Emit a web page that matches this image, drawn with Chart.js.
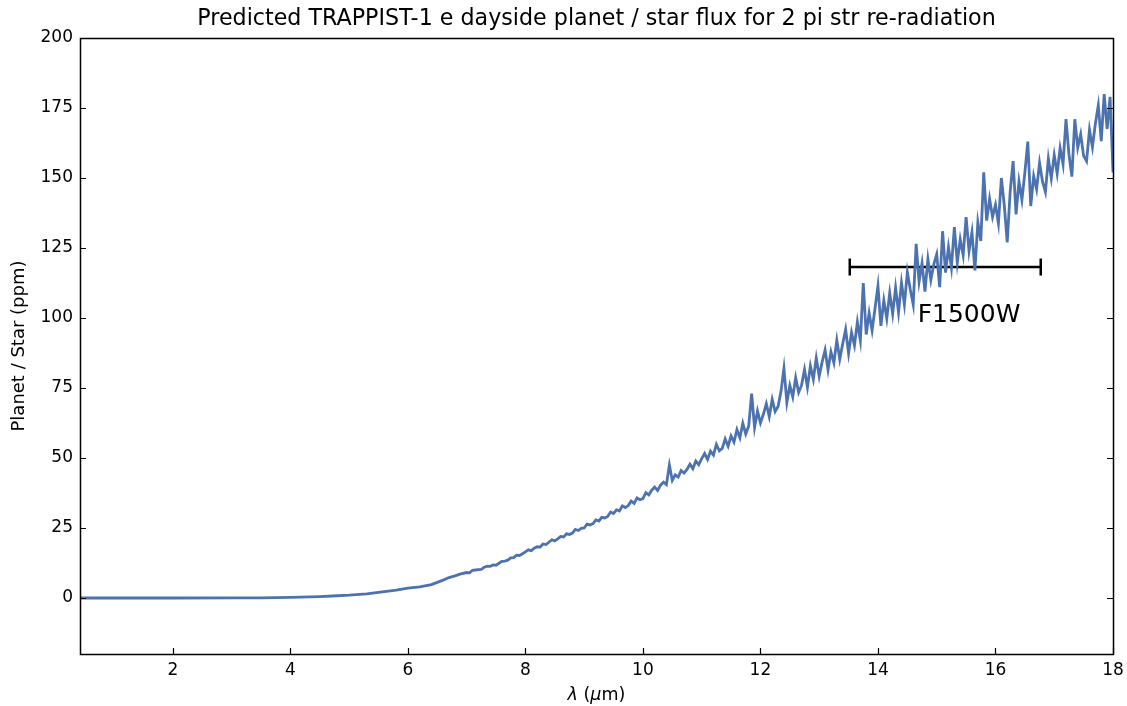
<!DOCTYPE html>
<html>
<head>
<meta charset="utf-8">
<script src="https://cdn.jsdelivr.net/npm/chart.js@4/dist/chart.umd.min.js"></script>
<style>
html,body{margin:0;padding:0;background:#fff;}
canvas{display:block;}
</style>
</head>
<body>
<canvas id="c" width="1127" height="706"></canvas>
<script>
// ---- data ----
const chartTitle = 'Predicted TRAPPIST-1 e dayside planet / star flux for 2 pi str re-radiation';
const yAxisTitle = 'Planet / Star (ppm)';
const xTicks = [2, 4, 6, 8, 10, 12, 14, 16, 18];
const yTicks = [0, 25, 50, 75, 100, 125, 150, 175, 200];
const xRange = [0.42, 18];
const yRange = [-20, 200];

const wavelength = [
0.42, 1, 2, 3, 3.5, 4, 4.5, 4.8, 5, 5.3, 5.5, 5.8, 6, 6.2, 6.4, 6.5, 6.6, 6.7, 6.8, 6.9,
7.00, 7.05, 7.10, 7.15, 7.20, 7.25, 7.30, 7.35, 7.40, 7.45, 7.50, 7.55, 7.60, 7.65, 7.70, 7.75, 7.80, 7.85, 7.90, 7.95,
8.00, 8.05, 8.10, 8.15, 8.20, 8.25, 8.30, 8.35, 8.40, 8.45, 8.50, 8.55, 8.60, 8.65, 8.70, 8.75, 8.80, 8.85, 8.90, 8.95,
9.00, 9.05, 9.10, 9.15, 9.20, 9.25, 9.30, 9.35, 9.40, 9.45, 9.50, 9.55, 9.60, 9.65, 9.70, 9.75, 9.80, 9.85, 9.90, 9.95,
10.00, 10.05, 10.10, 10.15, 10.20, 10.25, 10.30, 10.35, 10.40, 10.45, 10.50, 10.55, 10.60, 10.65, 10.70, 10.75, 10.80, 10.85, 10.90, 10.95,
11.00, 11.05, 11.10, 11.15, 11.20, 11.25, 11.30, 11.35, 11.40, 11.45, 11.50, 11.55, 11.60, 11.65, 11.70, 11.75, 11.80, 11.85, 11.90, 11.95,
12.00, 12.05, 12.10, 12.15, 12.20, 12.25, 12.30, 12.35, 12.40, 12.45, 12.50, 12.55, 12.60, 12.65, 12.70, 12.75, 12.80, 12.85, 12.90, 12.95,
13.00, 13.05, 13.10, 13.15, 13.20, 13.25, 13.30, 13.35, 13.40, 13.45, 13.50, 13.55, 13.60, 13.65, 13.70, 13.75, 13.80, 13.85, 13.90, 13.95,
14.00, 14.05, 14.10, 14.15, 14.20, 14.25, 14.30, 14.35, 14.40, 14.45, 14.50, 14.55, 14.60, 14.65, 14.70, 14.75, 14.80, 14.85, 14.90, 14.95,
15.00, 15.05, 15.10, 15.15, 15.20, 15.25, 15.30, 15.35, 15.40, 15.45, 15.50, 15.55, 15.60, 15.65, 15.70, 15.75, 15.80, 15.85, 15.90, 15.95,
16.00, 16.05, 16.10, 16.15, 16.20, 16.25, 16.30, 16.35, 16.40, 16.45, 16.50, 16.55, 16.60, 16.65, 16.70, 16.75, 16.80, 16.85, 16.90, 16.95,
17.00, 17.05, 17.10, 17.15, 17.20, 17.25, 17.30, 17.35, 17.40, 17.45, 17.50, 17.55, 17.60, 17.65, 17.70, 17.75, 17.80, 17.85, 17.90, 17.95,
18.00
];

const planetStarPpm = [
0, 0, 0, 0.02, 0.05, 0.2, 0.5, 0.8, 1.0, 1.5, 2.0, 2.8, 3.5, 4.0, 4.8, 5.6, 6.4, 7.3, 7.9, 8.6,
9.1, 9.0, 9.9, 10.0, 10.1, 10.2, 11.0, 11.4, 11.3, 11.8, 11.7, 12.4, 13.1, 13.2, 13.5, 14.3, 14.4, 15.3, 15.2, 15.8,
16.5, 17.2, 16.9, 17.8, 18.3, 18.2, 19.3, 19.1, 19.9, 20.8, 20.4, 21.1, 22.0, 21.8, 22.9, 22.7, 23.2, 24.5, 24.1, 24.9,
25.0, 26.4, 26.1, 26.6, 27.9, 27.5, 28.8, 28.6, 29.1, 30.7, 30.2, 31.5, 31.1, 32.9, 32.3, 33.0, 34.6, 33.8, 35.7, 35.1,
35.5, 37.6, 36.8, 38.5, 39.6, 38.4, 40.3, 41.4, 40.5, 47.5, 42.0, 44.0, 43.2, 45.5, 44.6, 45.9, 47.8, 46.2, 48.9, 47.6,
49.8, 51.6, 49.5, 52.4, 51.0, 54.9, 52.6, 53.4, 56.8, 54.2, 57.9, 55.7, 60.1, 57.2, 62.4, 58.6, 61.4, 73.0, 60.9, 66.8,
62.5, 65.6, 69.4, 64.8, 70.9, 66.6, 68.4, 73.8, 82.0, 69.8, 75.9, 71.8, 78.7, 73.4, 76.0, 81.6, 75.3, 82.9, 78.1, 85.7,
79.2, 84.3, 88.6, 81.5, 87.9, 84.0, 92.1, 85.3, 90.8, 95.9, 87.4, 94.8, 90.2, 98.6, 92.0, 112.5, 94.1, 101.8, 95.6, 103.4,
111.5, 97.2, 106.3, 99.8, 108.9, 101.5, 110.8, 102.0, 112.6, 104.9, 116.4, 110.2, 104.8, 126.5, 113.0, 119.6, 109.4, 121.1, 113.6, 119.2,
122.8, 111.0, 131.0, 116.2, 125.3, 118.0, 132.5, 119.8, 128.1, 122.4, 136.0, 123.9, 130.6, 117.0, 134.2, 127.5, 152.0, 134.8, 142.6, 136.1,
140.4, 133.8, 150.0, 140.2, 127.0, 145.1, 156.0, 137.0, 148.8, 142.2, 151.9, 163.0, 140.0, 150.7, 146.0, 155.4, 148.8, 145.0, 156.9, 149.9,
158.2, 151.6, 160.7, 154.9, 171.0, 158.5, 150.5, 171.0, 160.8, 165.6, 157.9, 156.0, 167.2, 161.0, 169.4, 176.0, 163.2, 180.0, 167.5, 179.0,
152.0
];

const filterName = 'F1500W';
const filterEdges = [13.52, 16.77];
const filterLevel = [118.2, 118.2];
const filterLabelPos = [15.55, 101];

// ---- chart ----
const FONT = '"DejaVu Sans", sans-serif';
const spectrum = wavelength.map((x, i) => ({x: x, y: planetStarPpm[i]}));
const band = filterEdges.map((x, i) => ({x: x, y: filterLevel[i]}));

const framePlugin = {
  id: 'frame',
  afterDatasetsDraw(chart) {
    const {ctx, chartArea: a, scales: {x, y}} = chart;
    ctx.save();
    ctx.fillStyle = '#000';
    ctx.font = '25px ' + FONT;
    ctx.textAlign = 'center';
    ctx.textBaseline = 'middle';
    ctx.fillText(filterName, x.getPixelForValue(filterLabelPos[0]), y.getPixelForValue(filterLabelPos[1]));
    ctx.strokeStyle = '#000';
    ctx.lineWidth = 1.2;
    ctx.beginPath();
    xTicks.forEach(v => {
      const px = Math.round(x.getPixelForValue(v)) + 0.5;
      ctx.moveTo(px, a.bottom); ctx.lineTo(px, a.bottom - 6);
    });
    yTicks.forEach(v => {
      const py = Math.round(y.getPixelForValue(v)) + 0.5;
      ctx.moveTo(a.left, py); ctx.lineTo(a.left + 6, py);
      ctx.moveTo(a.right, py); ctx.lineTo(a.right - 6, py);
    });
    ctx.stroke();
    ctx.lineWidth = 1.5;
    ctx.strokeRect(Math.round(a.left) + 0.5, Math.round(a.top) + 0.5, Math.round(a.right - a.left), Math.round(a.bottom - a.top));
    ctx.restore();
  },
  afterDraw(chart) {
    const {ctx, chartArea: a} = chart;
    ctx.save();
    ctx.fillStyle = '#000';
    ctx.font = '22.2px ' + FONT;
    ctx.textAlign = 'center';
    ctx.textBaseline = 'middle';
    ctx.fillText(chartTitle, (a.left + a.right) / 2, 19);
    ctx.save();
    ctx.translate(19, (a.top + a.bottom) / 2);
    ctx.rotate(-Math.PI / 2);
    ctx.font = '18px ' + FONT;
    ctx.fillText(yAxisTitle, 0, 0);
    ctx.restore();
    const parts = [['λ', 'italic '], [' (', ''], ['μ', 'italic '], ['m)', '']];
    let total = 0;
    parts.forEach(p => { ctx.font = p[1] + '17.5px ' + FONT; total += ctx.measureText(p[0]).width; });
    let cx = (a.left + a.right) / 2 - total / 2;
    ctx.textAlign = 'left';
    parts.forEach(p => {
      ctx.font = p[1] + '17.5px ' + FONT;
      ctx.fillText(p[0], cx, 695);
      cx += ctx.measureText(p[0]).width;
    });
    ctx.restore();
  }
};

new Chart(document.getElementById('c'), {
  type: 'scatter',
  data: {
    datasets: [
      {
        data: spectrum,
        showLine: true,
        borderColor: '#4C72B0',
        backgroundColor: '#4C72B0',
        borderWidth: 2.8,
        pointRadius: 0,
        tension: 0
      },
      {
        data: band,
        showLine: true,
        borderColor: '#000',
        backgroundColor: '#000',
        borderWidth: 2.5,
        pointStyle: 'line',
        rotation: 90,
        pointRadius: 8.5,
        pointBorderWidth: 2.5,
        pointHoverRadius: 8.5
      }
    ]
  },
  options: {
    responsive: false,
    animation: false,
    devicePixelRatio: 1,
    layout: {padding: {left: 0, right: 14, top: 38, bottom: 0}},
    plugins: {legend: {display: false}, tooltip: {enabled: false}, title: {display: false}},
    scales: {
      x: {
        type: 'linear',
        min: xRange[0], max: xRange[1],
        afterBuildTicks: s => { s.ticks = xTicks.map(v => ({value: v})); },
        afterFit: s => { s.height = 52; s.paddingRight = 0; s.paddingLeft = 0; },
        grid: {display: false, drawTicks: false},
        border: {display: false},
        ticks: {color: '#000', font: {family: FONT, size: 17}, padding: 6, maxRotation: 0, autoSkip: false}
      },
      y: {
        type: 'linear',
        min: yRange[0], max: yRange[1],
        afterBuildTicks: s => { s.ticks = yTicks.map(v => ({value: v})); },
        afterFit: s => { s.width = 80; s.paddingTop = 0; s.paddingBottom = 0; },
        grid: {display: false, drawTicks: false},
        border: {display: false},
        ticks: {color: '#000', font: {family: FONT, size: 17}, padding: 7, autoSkip: false}
      }
    }
  },
  plugins: [framePlugin]
});
</script>
</body>
</html>
